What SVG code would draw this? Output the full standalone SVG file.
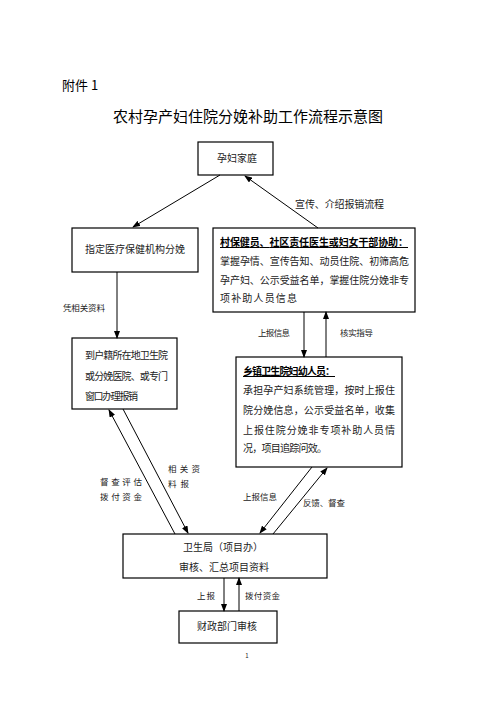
<svg xmlns="http://www.w3.org/2000/svg" width="496" height="702" viewBox="0 0 496 702">
<defs>
<marker id="ah" markerWidth="8" markerHeight="6" refX="7" refY="3" orient="auto" markerUnits="userSpaceOnUse">
<path d="M0,0 L8,3 L0,6 Z" fill="#000"/>
</marker>
<style>
.box{fill:#fff;stroke:#000;stroke-width:1.2}
.t{font-family:"Noto Sans CJK SC","Noto Sans",sans-serif;fill:#222;font-size:10px}
.c{text-anchor:middle}
.b{font-weight:bold;text-decoration:underline;fill:#000}
.s{font-size:8.5px}
.con line{stroke:#000;stroke-width:1;marker-end:url(#ah)}
</style>
</defs>
<rect width="496" height="702" fill="#fff"/>
<text class="t" x="62" y="90" style="font-size:13px;fill:#000">附件 1</text>
<text class="t" x="248" y="122" text-anchor="middle" style="font-size:15px;fill:#000" textLength="270">农村孕产妇住院分娩补助工作流程示意图</text>

<g id="n1"><rect class="box" x="198" y="142" width="75" height="33"/><text class="t c" x="237" y="162">孕妇家庭</text></g>
<g id="n2"><rect class="box" x="72" y="228" width="126" height="44"/><text class="t c" x="135" y="253">指定医疗保健机构分娩</text></g>
<g id="n3"><rect class="box" x="213" y="228" width="202" height="84"/>
<text class="t b" x="220" y="246" textLength="188">村保健员、社区责任医生或妇女干部协助：</text>
<text class="t" x="220" y="265" textLength="189">掌握孕情、宣传告知、动员住院、初筛高危</text>
<text class="t" x="220" y="284" textLength="189">孕产妇、公示受益名单，掌握住院分娩非专</text>
<text class="t" x="220" y="302" textLength="77">项补助人员信息</text></g>
<g id="n4"><rect class="box" x="72" y="338" width="105" height="71"/>
<text class="t" x="85" y="359" textLength="83">到户籍所在地卫生院</text>
<text class="t" x="85" y="380" textLength="83">或分娩医院、或专门</text>
<text class="t" x="85" y="400" textLength="53">窗口办理报销</text></g>
<g id="n5"><rect class="box" x="236" y="357" width="166" height="110"/>
<text class="t b" x="243" y="375" textLength="92">乡镇卫生院妇幼人员：</text>
<text class="t" x="243" y="394" textLength="152">承担孕产妇系统管理，按时上报住</text>
<text class="t" x="243" y="414" textLength="152">院分娩信息，公示受益名单，收集</text>
<text class="t" x="243" y="434" textLength="152">上报住院分娩非专项补助人员情</text>
<text class="t" x="243" y="452" textLength="84">况，项目追踪问效。</text></g>
<g id="n6"><rect class="box" x="123" y="534" width="204" height="44"/>
<text class="t c" x="223" y="551">卫生局（项目办）</text>
<text class="t c" x="224" y="571">审核、汇总项目资料</text></g>
<g id="n7"><rect class="box" x="179" y="611" width="98" height="32"/><text class="t c" x="227" y="630">财政部门审核</text></g>

<g class="con">
<line x1="220" y1="175" x2="133" y2="227"/>
<line x1="318" y1="228" x2="245" y2="176"/>
<line x1="117" y1="272" x2="117" y2="338"/>
<line x1="304" y1="312" x2="304" y2="357"/>
<line x1="326" y1="357" x2="326" y2="312"/>
<line x1="175" y1="534" x2="109" y2="410"/>
<line x1="123" y1="409" x2="188" y2="533"/>
<line x1="312" y1="467" x2="260" y2="533"/>
<line x1="273" y1="534" x2="327" y2="468"/>
<line x1="224" y1="578" x2="224" y2="611"/>
<line x1="239" y1="611" x2="239" y2="578"/>
</g>

<g id="labels">
<text class="t" x="295" y="208" textLength="89">宣传、介绍报销流程</text>
<text class="t s" x="63" y="311" textLength="42">凭相关资料</text>
<text class="t s" x="258" y="336" textLength="32">上报信息</text>
<text class="t s" x="340" y="336" textLength="33">核实指导</text>
<text class="t s" x="100" y="485" textLength="42">督查评估</text>
<text class="t s" x="100" y="500" textLength="42">拨付资金</text>
<text class="t s" x="168" y="472" textLength="32">相关资</text>
<text class="t s" x="168" y="487" textLength="21">料报</text>
<text class="t s" x="243" y="500" textLength="34">上报信息</text>
<text class="t s" x="303" y="506" textLength="42">反馈、督查</text>
<text class="t s" x="197" y="599" textLength="18">上报</text>
<text class="t s" x="245" y="599" textLength="35">拨付资金</text>
<text class="t" x="247" y="658" text-anchor="middle" style="font-size:6px">1</text>
</g>
</svg>
